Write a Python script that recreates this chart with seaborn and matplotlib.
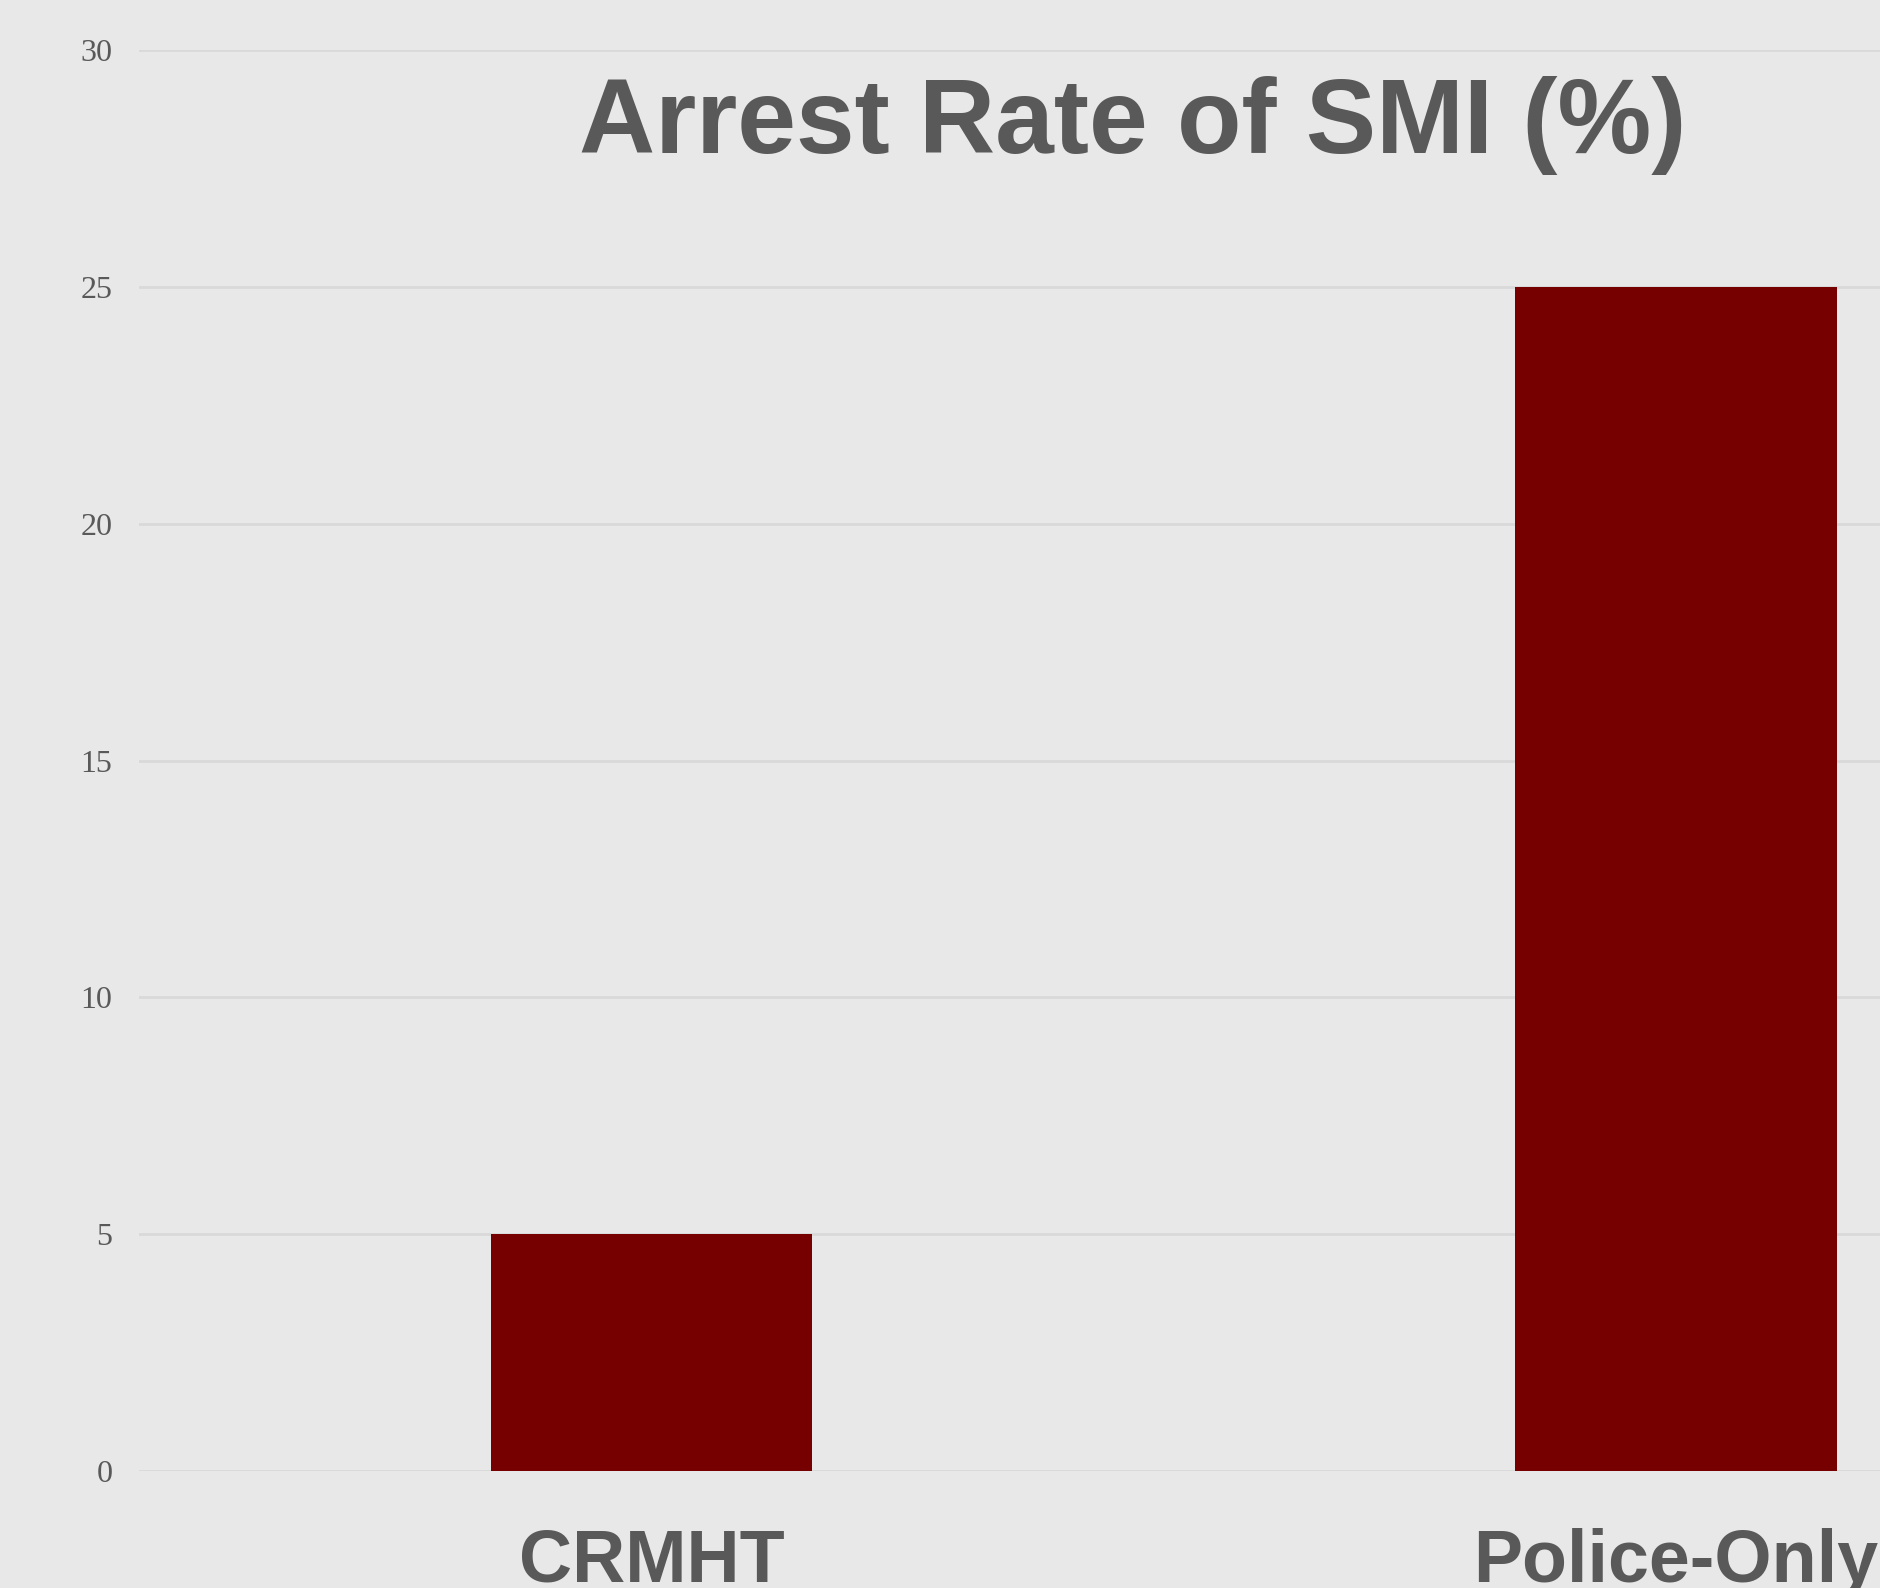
import matplotlib
matplotlib.use("Agg")
import matplotlib.pyplot as plt
import seaborn as sns
import pandas as pd

categories = ["CRMHT", "Police-Only"]
arrest_rate = [5, 25]
yticks = [0, 5, 10, 15, 20, 25, 30]

BG = "#e8e8e8"
GRID = "#d9d9d9"
TXT = "#595959"
BAR = "#760000"

sns.set_theme(style="white")
plt.rcParams["font.family"] = ["Liberation Sans", "DejaVu Sans"]

W, H = 1881, 1588
fig = plt.figure(figsize=(W / 100, H / 100), dpi=100, facecolor=BG)
ax = fig.add_axes([139 / W, 117 / H, (W - 139) / W, (1538 - 117) / H])
ax.set_facecolor(BG)

df = pd.DataFrame({"cat": categories, "val": arrest_rate})
sns.barplot(data=df, x="cat", y="val", color=BAR, saturation=1, width=0.3135, ax=ax,
            zorder=3, linewidth=0, edgecolor=BAR)

ax.set_xlim(-0.5, 1.2)
ax.set_ylim(0, 30)
ax.set_yticks(yticks)
ax.set_yticklabels([str(t) for t in yticks], fontfamily="Liberation Serif", fontsize=23, color=TXT)
ax.tick_params(axis="y", length=0, pad=19)
ax.tick_params(axis="x", length=0, pad=41)
for lab in ax.get_xticklabels():
    lab.set_fontsize(53)
    lab.set_fontweight("bold")
    lab.set_color(TXT)
ax.yaxis.grid(True, color=GRID, linewidth=2, zorder=0)
ax.set_axisbelow(True)
for s in ax.spines.values():
    s.set_visible(False)
ax.set_xlabel("")
ax.set_ylabel("")

fig.text(1133 / W, (H - 153) / H, "Arrest Rate of SMI (%)", ha="center", va="baseline",
         fontsize=76, fontweight="bold", color=TXT)

fig.savefig("out.png", dpi=100, facecolor=BG)
